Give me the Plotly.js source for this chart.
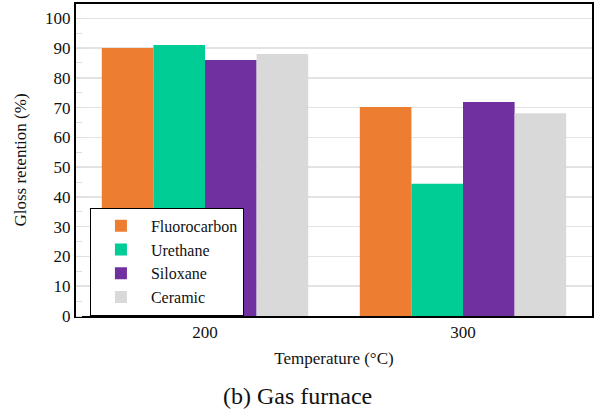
<!DOCTYPE html>
<html>
<head>
<meta charset="utf-8">
<script src="https://cdn.plot.ly/plotly-3.0.1.min.js"></script>
<style>html,body{margin:0;padding:0;background:#fff;}#chart{width:596px;height:413px;}</style>
</head>
<body>
<div id="chart"></div>
<script>
const categories = ["200", "300"];
const seriesNames = ["Fluorocarbon", "Urethane", "Siloxane", "Ceramic"];
const fluorocarbon = [90, 70.2];
const urethane = [91, 44.4];
const siloxane = [86, 71.9];
const ceramic = [88, 68.1];
const yTickVals = [0, 10, 20, 30, 40, 50, 60, 70, 80, 90, 100];
const colors = ["#ED7D31", "#00CC96", "#7030A0", "#D9D9D9"];

const values = [fluorocarbon, urethane, siloxane, ceramic];
const serifFamily = "Liberation Serif";

const traces = seriesNames.map((name, i) => ({
  type: "bar",
  name: name,
  x: categories,
  y: values[i],
  marker: {color: colors[i], line: {width: 0}}
}));

const layout = {
  width: 596,
  height: 413,
  margin: {l: 76, r: 4, t: 4, b: 97},
  paper_bgcolor: "#fff",
  plot_bgcolor: "#fff",
  font: {family: serifFamily, color: "#111", size: 16},
  barmode: "group",
  bargap: 0.2,
  bargroupgap: 0,
  showlegend: true,
  legend: {
    x: 0.027, y: 0.347, xanchor: "left", yanchor: "top",
    bgcolor: "#fff", bordercolor: "#000", borderwidth: 1,
    font: {family: serifFamily, size: 16, color: "#111"},
    itemwidth: 50
  },
  xaxis: {
    type: "category",
    tickvals: categories,
    ticktext: categories,
    showline: true, linecolor: "#000", linewidth: 2, mirror: true,
    ticks: "", showgrid: false,
    tickfont: {family: serifFamily, size: 17},
    title: {text: "Temperature (°C)", font: {family: serifFamily, size: 17}, standoff: 11},
    zeroline: false
  },
  yaxis: {
    range: [0, 104.8],
    tickvals: yTickVals,
    showline: true, linecolor: "#000", linewidth: 2, mirror: true,
    gridcolor: "#e3e3e3", gridwidth: 1.5,
    ticks: "", ticklen: 0,
    minor: {dtick: 5, tick0: 5, ticks: "inside", ticklen: 6, tickcolor: "#ddd", showgrid: false},
    tickfont: {family: serifFamily, size: 17},
    title: {text: "Gloss retention (%)", font: {family: serifFamily, size: 17}, standoff: 14},
    zeroline: false
  },
  annotations: [{
    text: "(b) Gas furnace",
    xref: "paper", yref: "paper",
    x: 0.43, y: -0.255, xanchor: "center", yanchor: "middle",
    showarrow: false,
    font: {family: serifFamily, size: 24, color: "#111"}
  }]
};

Plotly.newPlot("chart", traces, layout, {displayModeBar: false, staticPlot: true});
</script>
</body>
</html>
